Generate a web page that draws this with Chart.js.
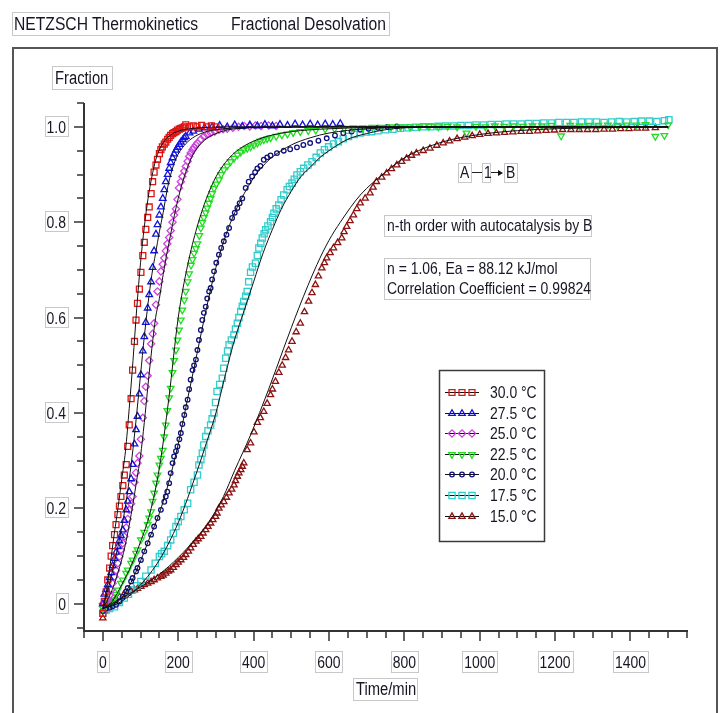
<!DOCTYPE html>
<html>
<head>
<meta charset="utf-8">
<title>Fractional Desolvation</title>
<script src="https://cdn.jsdelivr.net/npm/chart.js@4.4.0/dist/chart.umd.min.js"></script>
<style>
  html, body { margin: 0; padding: 0; background: #fff; overflow: hidden; }
  #wrap { position: relative; width: 720px; height: 713px; }
  #c { position: absolute; left: 0; top: 0; z-index: 1; }
  .frame { position: absolute; left: 12px; top: 47px; width: 702px; height: 700px; border: 2px solid #555; }
  .box {
    position: absolute; z-index: 2; box-sizing: border-box; overflow: visible;
    border: 1px solid #c8c8c8; color: #161624; white-space: nowrap;
    font: 17px "Liberation Sans", Arial, sans-serif;
    line-height: 20px; padding: 0 2px;
  }
  /* the reference uses a narrow face: squeeze the regular one */
  .nt { display: inline-block; transform: scaleX(0.82); transform-origin: 0 50%; }
  .hd { display: inline-block; transform: scaleX(0.87); transform-origin: 0 50%; }
  .ln { position: absolute; z-index: 2; height: 1px; background: #222; }
  .head { position: absolute; z-index: 2; width: 0; height: 0; border-top: 3px solid transparent; border-bottom: 3px solid transparent; border-left: 5px solid #111; }
</style>
</head>
<body>
<div id="wrap">
  <div class="frame"></div>
  <canvas id="c" width="720" height="713"></canvas>

  <div class="box" style="left:12px;top:12px;width:378px;height:24px;font-size:18px;line-height:22px;padding:0 1px;">
    <span class="hd">NETZSCH Thermokinetics</span><span class="hd" style="position:absolute;left:218px;top:0;">Fractional Desolvation</span>
  </div>
  <div class="box" style="left:52px;top:66px;width:61px;height:24px;line-height:22px;font-size:18px;"><span class="nt">Fraction</span></div>
  <div class="box" style="left:353px;top:678px;width:65px;height:23px;line-height:21px;font-size:18px;"><span class="nt">Time/min</span></div>

  <div class="box" style="left:458px;top:163px;width:14px;height:20px;line-height:18px;padding:0 1px;"><span class="nt">A</span></div>
  <div class="ln" style="left:472px;top:172px;width:10px;"></div>
  <div class="box" style="left:482px;top:163px;width:9px;height:20px;line-height:18px;padding:0 1px;"><span class="nt">1</span></div>
  <div class="ln" style="left:491px;top:172px;width:8px;"></div>
  <div class="head" style="left:498px;top:169.5px;"></div>
  <div class="box" style="left:504px;top:163px;width:14px;height:20px;line-height:18px;padding:0 1px;"><span class="nt">B</span></div>

  <div class="box" style="left:384px;top:215px;width:208px;height:22px;"><span class="nt">n-th order with autocatalysis by B</span></div>
  <div class="box" style="left:384px;top:258px;width:207px;height:42px;"><span class="nt">n = 1.06, Ea = 88.12 kJ/mol<br>Correlation Coefficient = 0.99824</span></div>
</div>

<script>
// ─── Data ────────────────────────────────────────────────────────────────────
// 30.0 °C
const T30 = [0,4,9,13,18,22,26,31,35,40,44,48,53,57,62,66,70,75,79,84,88,92,97,101,106,110,114,119,123,128,132,136,141,145,150,154,158,163,167,172,176,180,185,189,194,198,203,207,212,216,220,230,240,250,262,275,288,300];
const V30 = [-0.02,0.005,0.025,0.05,0.075,0.1,0.122,0.145,0.166,0.187,0.205,0.225,0.248,0.27,0.292,0.33,0.375,0.43,0.49,0.55,0.595,0.63,0.66,0.695,0.73,0.758,0.785,0.81,0.832,0.86,0.885,0.905,0.92,0.932,0.944,0.952,0.958,0.964,0.968,0.974,0.978,0.982,0.986,0.988,0.99,0.993,0.995,0.997,0.998,1.0,1.004,1.0,1.002,1.0,1.003,1.0,1.002,1.0];
// 27.5 °C
const T275 = [0,4,9,13,18,22,26,31,35,40,44,48,53,57,62,66,70,75,79,84,88,92,97,101,106,110,114,119,123,128,132,136,141,145,150,154,159,163,167,172,176,180,185,189,194,198,203,207,212,216,220,230,240,255,270,290,310,330,350,370,390,410,430,450,470,490,510,530,550,570,590,610,630];
const V275 = [0.0,0.02,0.03,0.04,0.055,0.065,0.08,0.095,0.108,0.12,0.132,0.143,0.155,0.175,0.197,0.215,0.235,0.262,0.292,0.335,0.365,0.393,0.44,0.48,0.53,0.56,0.59,0.62,0.648,0.675,0.705,0.74,0.775,0.795,0.815,0.832,0.85,0.868,0.885,0.9,0.913,0.925,0.935,0.943,0.951,0.957,0.963,0.968,0.973,0.977,0.98,0.987,0.991,0.995,0.998,1.0,1.003,1.0,1.004,1.001,1.004,1.002,1.005,1.002,1.005,1.003,1.006,1.004,1.006,1.004,1.006,1.005,1.007];
// 25.0 °C
const T25 = [0,4,9,13,18,22,26,31,35,40,44,48,53,57,62,66,70,75,79,84,88,92,97,101,106,110,114,119,123,128,132,136,141,145,150,154,159,163,167,171,176,180,185,189,194,198,202,207,211,216,220,225,229,233,238,242,247,251,260,268,277,286,297,308,319,330,345,360,375,390,405,420,440,460];
const V25 = [0.0,0.0,0.005,0.008,0.018,0.029,0.043,0.057,0.07,0.085,0.099,0.113,0.127,0.141,0.16,0.178,0.197,0.21,0.225,0.255,0.275,0.295,0.31,0.345,0.39,0.425,0.455,0.478,0.51,0.545,0.566,0.588,0.627,0.655,0.676,0.697,0.712,0.725,0.74,0.755,0.768,0.782,0.8,0.815,0.828,0.848,0.872,0.885,0.896,0.907,0.917,0.928,0.938,0.945,0.952,0.957,0.962,0.966,0.974,0.98,0.984,0.987,0.99,0.994,0.995,0.996,0.998,1.0,1.002,1.001,1.003,1.002,1.003,1.002];
// 22.5 °C
const T225 = [0,9,18,26,35,40,48,53,62,66,75,79,88,92,101,110,119,123,128,132,136,141,145,150,154,159,163,167,171,176,180,185,189,194,198,202,207,211,216,220,225,229,234,238,242,247,251,256,260,264,268,273,277,282,286,290,295,301,308,314,321,330,339,348,357,366,374,383,392,401,410,418,427,436,445,460,475,490,505,524,545,565,590,615,640,665,690,715,740,765,790,815,840,865,890,915,940,965,990,1015,1040,1065,1090,1115,1140,1165,1190,1216,1240,1265,1290,1315,1340,1365,1390,1415,1440,1466,1490,1500];
const V225 = [-0.01,0.0,0.003,0.008,0.02,0.029,0.043,0.05,0.064,0.071,0.085,0.092,0.106,0.113,0.134,0.15,0.166,0.18,0.193,0.215,0.232,0.253,0.27,0.291,0.305,0.322,0.35,0.375,0.405,0.432,0.452,0.485,0.51,0.532,0.553,0.574,0.595,0.616,0.637,0.655,0.675,0.692,0.71,0.722,0.735,0.745,0.755,0.772,0.788,0.8,0.81,0.82,0.83,0.84,0.85,0.86,0.871,0.88,0.889,0.9,0.91,0.918,0.927,0.934,0.941,0.947,0.952,0.955,0.958,0.962,0.966,0.97,0.973,0.975,0.977,0.98,0.983,0.985,0.988,0.99,0.992,0.993,0.995,0.996,0.997,0.998,0.998,0.999,0.999,1.0,1.0,1.0,1.0,1.001,1.0,1.001,1.0,0.987,1.001,1.0,1.002,1.001,1.002,1.001,1.002,1.002,1.003,0.981,1.003,1.002,1.003,1.003,1.004,1.003,1.004,1.004,1.005,0.98,0.982,1.004];
// 20.0 °C
const T20 = [0,9,18,26,35,44,53,62,66,75,79,88,92,101,110,119,128,136,145,154,163,167,171,176,180,185,189,194,198,203,207,211,216,220,225,229,233,238,242,247,251,255,260,264,268,273,277,282,286,290,295,301,308,314,321,328,335,343,350,357,363,370,379,387,396,404,410,418,427,436,445,462,480,497,515,532,550,572,594,616,638,660,683,705,730,755,780];
const V20 = [-0.015,-0.01,-0.008,-0.005,-0.002,0.005,0.015,0.026,0.033,0.047,0.054,0.068,0.075,0.092,0.11,0.127,0.145,0.162,0.18,0.197,0.214,0.225,0.235,0.253,0.274,0.295,0.309,0.32,0.33,0.345,0.358,0.377,0.396,0.412,0.428,0.45,0.47,0.49,0.5,0.512,0.532,0.553,0.574,0.595,0.61,0.623,0.64,0.655,0.662,0.68,0.697,0.715,0.732,0.746,0.76,0.774,0.788,0.809,0.82,0.83,0.84,0.85,0.872,0.885,0.896,0.905,0.913,0.918,0.931,0.936,0.94,0.945,0.95,0.953,0.957,0.962,0.966,0.971,0.976,0.982,0.987,0.99,0.994,0.996,0.998,1.0,1.001];
// 17.5 °C
const T175 = [0,9,18,31,44,57,68,79,90,101,114,128,139,150,156,163,172,180,187,194,200,207,216,225,233,242,251,255,260,264,268,273,279,286,290,295,299,303,310,317,321,326,331,335,341,348,352,357,361,366,370,374,379,383,387,392,397,405,410,414,419,423,428,432,438,445,450,454,460,467,473,480,489,495,502,508,515,524,533,544,555,566,577,588,599,612,625,638,652,667,683,698,713,730,750,770,790,810,830,850,870,890,910,930,950,970,990,1010,1030,1050,1070,1090,1110,1130,1150,1170,1190,1210,1230,1250,1270,1290,1310,1330,1350,1370,1390,1410,1430,1450,1470,1490,1502];
const V175 = [-0.02,-0.013,-0.01,-0.006,0.003,0.012,0.02,0.029,0.038,0.047,0.058,0.071,0.085,0.099,0.105,0.11,0.122,0.134,0.148,0.162,0.172,0.183,0.197,0.211,0.239,0.255,0.27,0.291,0.302,0.316,0.333,0.351,0.363,0.375,0.388,0.4,0.422,0.445,0.46,0.473,0.494,0.515,0.53,0.543,0.553,0.564,0.576,0.588,0.6,0.613,0.624,0.634,0.645,0.655,0.675,0.695,0.706,0.714,0.73,0.746,0.756,0.767,0.776,0.784,0.792,0.801,0.81,0.819,0.828,0.836,0.847,0.857,0.868,0.875,0.882,0.89,0.899,0.906,0.913,0.92,0.927,0.936,0.945,0.952,0.958,0.964,0.969,0.975,0.98,0.984,0.987,0.989,0.99,0.992,0.994,0.995,0.997,0.998,0.999,1.0,1.0,1.001,1.002,1.002,1.003,1.003,1.004,1.004,1.005,1.005,1.006,1.006,1.006,1.007,1.007,1.008,1.008,1.009,1.009,1.009,1.01,1.01,1.01,1.009,1.01,1.011,1.01,1.011,1.012,1.012,1.011,1.013,1.015];
// 15.0 °C
const T15 = [0,5,11,22,33,44,55,66,75,84,92,101,110,119,128,136,145,154,160,167,174,180,187,194,200,207,214,220,227,233,240,247,253,260,266,273,279,286,292,299,303,308,314,321,328,335,342,348,352,357,361,366,370,374,383,392,401,410,418,427,436,445,450,458,467,476,485,493,502,513,524,535,546,555,564,572,581,588,594,603,612,623,634,640,647,656,665,674,683,696,709,717,726,740,753,766,780,793,806,819,832,850,868,886,903,920,940,960,980,1000,1022,1044,1066,1088,1110,1132,1154,1176,1198,1220,1242,1264,1286,1308,1330,1352,1374,1396,1418,1440,1466];
const V15 = [-0.03,-0.015,-0.005,0.005,0.01,0.015,0.019,0.022,0.026,0.029,0.032,0.036,0.04,0.043,0.046,0.05,0.054,0.057,0.06,0.064,0.068,0.071,0.076,0.082,0.087,0.092,0.097,0.103,0.11,0.117,0.124,0.131,0.136,0.141,0.148,0.155,0.162,0.169,0.176,0.183,0.19,0.2,0.207,0.214,0.223,0.232,0.24,0.249,0.258,0.267,0.274,0.281,0.288,0.295,0.323,0.337,0.36,0.38,0.39,0.403,0.42,0.438,0.45,0.466,0.485,0.5,0.516,0.532,0.55,0.57,0.588,0.612,0.634,0.652,0.669,0.687,0.704,0.715,0.725,0.736,0.746,0.757,0.767,0.78,0.791,0.803,0.815,0.828,0.84,0.85,0.861,0.873,0.885,0.894,0.903,0.912,0.92,0.927,0.934,0.94,0.945,0.95,0.955,0.961,0.966,0.97,0.975,0.978,0.981,0.984,0.986,0.987,0.988,0.989,0.99,0.99,0.991,0.992,0.993,0.994,0.994,0.994,0.994,0.994,0.995,0.995,0.996,0.996,0.997,0.997,0.998];

// Fitted model curves (black lines)
const FIT30_T = [0,10,20,30,40,50,60,70,80,90,100,110,120,130,140,150,165,180,200,230,280,350,600,1000,1500];
const FIT30_V = [-0.01,0.03,0.085,0.145,0.2,0.26,0.32,0.41,0.51,0.62,0.715,0.79,0.85,0.895,0.93,0.952,0.972,0.983,0.991,0.996,0.999,1.0,1.0,1.0,1.0];
const FIT275_T = [0,10,20,30,40,50,60,70,80,90,100,110,120,130,140,150,160,170,180,195,210,230,260,300,400,600,1000,1500];
const FIT275_V = [-0.01,0.02,0.05,0.085,0.12,0.16,0.205,0.26,0.325,0.4,0.48,0.56,0.63,0.69,0.735,0.78,0.82,0.865,0.9,0.935,0.955,0.972,0.986,0.994,0.999,1.0,1.0,1.0];
const FIT25_T = [0,20,40,60,80,90,100,110,120,130,140,150,160,170,180,190,200,210,220,235,250,270,300,350,450,700,1000,1500];
const FIT25_V = [-0.01,0.02,0.065,0.125,0.21,0.26,0.31,0.38,0.46,0.535,0.6,0.64,0.69,0.735,0.775,0.815,0.85,0.88,0.905,0.935,0.955,0.972,0.986,0.996,0.999,1.0,1.0,1.0];
const FIT225_T = [0,25,50,75,100,125,150,175,200,225,250,275,300,325,350,375,400,450,500,600,800,1500];
const FIT225_V = [-0.01,0.005,0.04,0.08,0.13,0.19,0.285,0.43,0.6,0.71,0.79,0.85,0.895,0.925,0.946,0.96,0.97,0.983,0.99,0.996,0.999,1.0];
const FIT20_T = [0,25,50,75,100,125,150,175,200,225,250,275,300,325,350,375,400,425,450,500,550,600,700,800,1000,1500];
const FIT20_V = [-0.01,-0.002,0.012,0.045,0.09,0.14,0.19,0.255,0.335,0.43,0.525,0.62,0.705,0.77,0.82,0.86,0.893,0.918,0.937,0.962,0.977,0.987,0.996,0.999,1.0,1.0];
const FIT175_T = [0,50,100,150,200,250,275,300,325,350,375,400,425,450,475,500,525,550,575,600,650,700,750,800,900,1500];
const FIT175_V = [-0.01,0.005,0.04,0.092,0.17,0.278,0.338,0.4,0.48,0.555,0.615,0.675,0.735,0.785,0.83,0.865,0.895,0.915,0.935,0.95,0.974,0.986,0.994,0.998,1.0,1.0];
const FIT15_T = [0,50,100,150,200,250,280,320,350,392,440,480,520,568,600,630,683,750,800,900,1000,1100,1200,1500];
const FIT15_V = [-0.01,0.012,0.035,0.062,0.097,0.14,0.17,0.225,0.28,0.354,0.45,0.536,0.62,0.711,0.762,0.8,0.857,0.905,0.935,0.968,0.984,0.992,0.996,1.0];

// Axis ticks
const X_TICKS = [0, 200, 400, 600, 800, 1000, 1200, 1400];
const X_TICK_LABELS = ['0', '200', '400', '600', '800', '1000', '1200', '1400'];
const Y_TICKS = [0, 0.2, 0.4, 0.6, 0.8, 1.0];
const Y_TICK_LABELS = ['0', '0.2', '0.4', '0.6', '0.8', '1.0'];

// ─── Styling ────────────────────────────────────────────────────────────────
const FONT = '17px "Liberation Sans", Arial, sans-serif';
const SQUEEZE = 0.82;
const TEXT_COLOR = '#161624';
const AXIS_COLOR = '#333';
const LABEL_BOX = '#c8c8c8';

const SERIES = [
  { label: '30.0 °C', t: T30,  v: V30,  ft: FIT30_T,  fv: FIT30_V,  color: '#dd1515', style: 'rect',     rot: 0,   r: 4.2 },
  { label: '27.5 °C', t: T275, v: V275, ft: FIT275_T, fv: FIT275_V, color: '#1212dd', style: 'triangle', rot: 0,   r: 3.8 },
  { label: '25.0 °C', t: T25,  v: V25,  ft: FIT25_T,  fv: FIT25_V,  color: '#cc44dd', style: 'rectRot',  rot: 0,   r: 3.6 },
  { label: '22.5 °C', t: T225, v: V225, ft: FIT225_T, fv: FIT225_V, color: '#22dd22', style: 'triangle', rot: 180, r: 3.8 },
  { label: '20.0 °C', t: T20,  v: V20,  ft: FIT20_T,  fv: FIT20_V,  color: '#101080', style: 'circle',   rot: 0,   r: 2.3 },
  { label: '17.5 °C', t: T175, v: V175, ft: FIT175_T, fv: FIT175_V, color: '#33cccc', style: 'rect',     rot: 0,   r: 4.4 },
  { label: '15.0 °C', t: T15,  v: V15,  ft: FIT15_T,  fv: FIT15_V,  color: '#8b1212', style: 'triangle', rot: 0,   r: 3.6 },
];

function toPoints(ts, vs) {
  const n = Math.min(ts.length, vs.length);
  const out = [];
  for (let i = 0; i < n; i++) out.push({ x: ts[i], y: vs[i] });
  return out;
}

// narrow text: regular face squeezed horizontally
function narrowText(ctx, txt, x, y, align) {
  const w = ctx.measureText(txt).width * SQUEEZE;
  let left = x;
  if (align === 'right') left = x - w;
  else if (align === 'center') left = x - w / 2;
  ctx.save();
  ctx.translate(left, y);
  ctx.scale(SQUEEZE, 1);
  ctx.textAlign = 'left';
  ctx.fillText(txt, 0, 0);
  ctx.restore();
  return w;
}

const datasets = [];
SERIES.forEach(s => {
  datasets.push({
    label: s.label,
    data: toPoints(s.t, s.v),
    showLine: false,
    pointStyle: s.style,
    pointRotation: s.rot,
    pointRadius: s.r,
    pointBorderWidth: 1.3,
    pointBorderColor: s.color,
    pointBackgroundColor: 'rgba(0,0,0,0)',
    order: 1,
  });
  datasets.push({
    label: s.label + ' fit',
    data: toPoints(s.ft, s.fv),
    showLine: true,
    borderColor: '#111',
    borderWidth: 1,
    pointRadius: 0,
    cubicInterpolationMode: 'monotone',
    fill: false,
    order: 0,
  });
});

// ─── Axes: lines, minor/major ticks and boxed labels ────────────────────────
const axesPlugin = {
  id: 'netzschAxes',
  afterDraw(chart) {
    const ctx = chart.ctx, a = chart.chartArea;
    const xs = chart.scales.x, ys = chart.scales.y;
    ctx.save();
    ctx.strokeStyle = AXIS_COLOR;
    ctx.lineWidth = 2;
    ctx.beginPath();
    ctx.moveTo(a.left, a.top); ctx.lineTo(a.left, a.bottom + 1);
    ctx.moveTo(a.left - 1, a.bottom); ctx.lineTo(a.right + 1, a.bottom);
    ctx.stroke();

    ctx.lineWidth = 1.5;
    ctx.beginPath();
    for (let i = -1; i <= 21; i++) {
      const v = i * 0.05;
      if (v < ys.min || v > ys.max + 1e-9) continue;
      const py = Math.round(ys.getPixelForValue(v));
      const len = (i % 4 === 0) ? 10 : 7;
      ctx.moveTo(a.left, py); ctx.lineTo(a.left - len, py);
    }
    for (let i = -1; i <= 31; i++) {
      const v = i * 50;
      if (v < xs.min || v > xs.max) continue;
      const px = Math.round(xs.getPixelForValue(v));
      const len = (i % 4 === 0) ? 10 : 7;
      ctx.moveTo(px, a.bottom); ctx.lineTo(px, a.bottom + len);
    }
    ctx.stroke();

    ctx.font = FONT;
    ctx.textBaseline = 'middle';
    ctx.lineWidth = 1;
    Y_TICKS.forEach((v, i) => {
      const py = Math.round(ys.getPixelForValue(v));
      const txt = Y_TICK_LABELS[i];
      const w = ctx.measureText(txt).width * SQUEEZE;
      const right = a.left - 16;
      ctx.strokeStyle = LABEL_BOX;
      ctx.strokeRect(Math.round(right - w - 4) + 0.5, py - 10.5, Math.round(w + 4), 20);
      ctx.fillStyle = TEXT_COLOR;
      narrowText(ctx, txt, right - 2, py + 1, 'right');
    });
    X_TICKS.forEach((v, i) => {
      const px = xs.getPixelForValue(v);
      const txt = X_TICK_LABELS[i];
      const w = ctx.measureText(txt).width * SQUEEZE;
      ctx.strokeStyle = LABEL_BOX;
      ctx.strokeRect(Math.round(px - w / 2 - 2) + 0.5, a.bottom + 20.5, Math.round(w + 4), 21);
      ctx.fillStyle = TEXT_COLOR;
      narrowText(ctx, txt, px, a.bottom + 32, 'center');
    });
    ctx.restore();
  }
};

// ─── Boxed legend inside the plot ───────────────────────────────────────────
const legendPlugin = {
  id: 'boxLegend',
  afterDraw(chart) {
    const ctx = chart.ctx;
    ctx.save();
    ctx.strokeStyle = '#3a3a3a';
    ctx.lineWidth = 1.5;
    ctx.strokeRect(439.5, 370.5, 105, 171);
    ctx.font = FONT;
    ctx.textBaseline = 'middle';
    SERIES.forEach((s, i) => {
      const y = Math.round(392 + i * 20.6) + 0.5;
      ctx.strokeStyle = '#111';
      ctx.lineWidth = 1;
      ctx.beginPath(); ctx.moveTo(445, y); ctx.lineTo(479, y); ctx.stroke();
      ctx.strokeStyle = s.color;
      ctx.fillStyle = 'rgba(0,0,0,0)';
      ctx.lineWidth = 1.3;
      [452, 462, 472].forEach(x => {
        Chart.helpers.drawPoint(ctx, { pointStyle: s.style, rotation: s.rot, radius: s.r, borderWidth: 1.3 }, x, y);
      });
      ctx.fillStyle = TEXT_COLOR;
      narrowText(ctx, s.label, 490, y + 1, 'left');
    });
    ctx.restore();
  }
};

new Chart(document.getElementById('c'), {
  type: 'scatter',
  data: { datasets },
  options: {
    responsive: false,
    devicePixelRatio: 1,
    animation: false,
    events: [],
    layout: { padding: { left: 84, top: 103, right: 33, bottom: 82 } },
    scales: {
      x: { type: 'linear', min: -50, max: 1550, display: false },
      y: { type: 'linear', min: -0.057, max: 1.05, display: false },
    },
    plugins: {
      legend: { display: false },
      tooltip: { enabled: false },
    },
  },
  plugins: [axesPlugin, legendPlugin],
});
</script>
</body>
</html>
